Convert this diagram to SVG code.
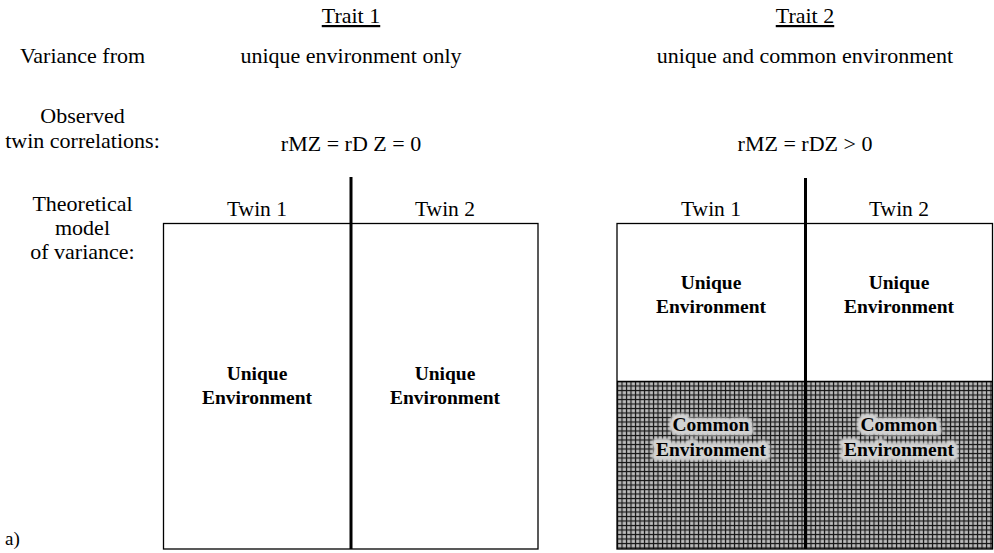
<svg xmlns="http://www.w3.org/2000/svg" width="994" height="553" viewBox="0 0 994 553">
  <style>
    text { font-family: "Liberation Serif", "Times New Roman", serif; fill: #000; }
    .lbl { font-size: 22px; text-anchor: middle; }
    .twin { font-size: 21.5px; text-anchor: middle; }
    .bold { font-size: 19.5px; font-weight: bold; text-anchor: middle; }
    .halo { font-size: 19.5px; font-weight: bold; text-anchor: middle; fill: #d2d2d2; stroke: #d2d2d2; stroke-width: 9; stroke-linejoin: round; }
    .box { fill: none; stroke: #000; stroke-width: 1.3; }
    .div { stroke: #000; stroke-width: 3; }
  </style>
  <defs>
    <!-- dark screen used for the shared-environment share -->
    <pattern id="screen" x="617" y="381" width="4.5" height="4.5" patternUnits="userSpaceOnUse">
      <rect width="4.5" height="4.5" fill="#151515"/>
      <rect x="1.1" y="1.1" width="3.3" height="3.3" fill="#bcbcbc"/>
    </pattern>
    <filter id="soft" x="-10%" y="-30%" width="120%" height="160%">
      <feGaussianBlur stdDeviation="0.9"/>
    </filter>
  </defs>
  <rect width="994" height="553" fill="#fff"/>

  <!-- row captions -->
  <g id="captions">
    <text class="lbl" x="82.5" y="63">Variance from</text>
    <text class="lbl" x="82.5" y="123">Observed</text>
    <text class="lbl" x="82.5" y="148">twin correlations:</text>
    <text class="lbl" x="82.5" y="211">Theoretical</text>
    <text class="lbl" x="82.5" y="235">model</text>
    <text class="lbl" x="82.5" y="259">of variance:</text>
    <text x="5" y="545" style="font-size:19px">a)</text>
  </g>

  <!-- column headings -->
  <g id="trait1-head">
    <text class="lbl" x="351" y="23" text-decoration="underline">Trait 1</text>
    <text class="lbl" x="351" y="63">unique environment only</text>
    <text class="lbl" x="351" y="151">rMZ = rD Z = 0</text>
  </g>
  <g id="trait2-head">
    <text class="lbl" x="805" y="23" text-decoration="underline">Trait 2</text>
    <text class="lbl" x="805" y="63">unique and common environment</text>
    <text class="lbl" x="805" y="151">rMZ = rDZ &gt; 0</text>
  </g>

  <!-- Trait 1 variance model -->
  <g id="trait1-model">
    <rect class="box" x="163.5" y="223.5" width="374.5" height="325.5"/>
    <line class="div" x1="351" y1="177" x2="351" y2="549"/>
    <text class="twin" x="257" y="216">Twin 1</text>
    <text class="twin" x="445" y="216">Twin 2</text>
    <text class="bold" x="257" y="380">Unique</text>
    <text class="bold" x="257" y="404">Environment</text>
    <text class="bold" x="445" y="380">Unique</text>
    <text class="bold" x="445" y="404">Environment</text>
  </g>

  <!-- Trait 2 variance model -->
  <g id="trait2-model">
    <rect x="617" y="381.5" width="376" height="167.5" fill="url(#screen)"/>
    <rect class="box" x="617" y="223.5" width="375.5" height="325.5"/>
    <line class="box" x1="617" y1="381.5" x2="992.5" y2="381.5" stroke="#555"/>
    <line class="div" x1="805.5" y1="178" x2="805.5" y2="549"/>
    <text class="twin" x="711" y="216">Twin 1</text>
    <text class="twin" x="899" y="216">Twin 2</text>
    <text class="bold" x="711" y="289">Unique</text>
    <text class="bold" x="711" y="313">Environment</text>
    <text class="bold" x="899" y="289">Unique</text>
    <text class="bold" x="899" y="313">Environment</text>
    <g filter="url(#soft)">
      <text class="halo" x="711" y="431">Common</text>
      <text class="halo" x="711" y="456">Environment</text>
      <text class="halo" x="899" y="431">Common</text>
      <text class="halo" x="899" y="456">Environment</text>
    </g>
    <text class="bold" x="711" y="431">Common</text>
    <text class="bold" x="711" y="456">Environment</text>
    <text class="bold" x="899" y="431">Common</text>
    <text class="bold" x="899" y="456">Environment</text>
  </g>
</svg>
